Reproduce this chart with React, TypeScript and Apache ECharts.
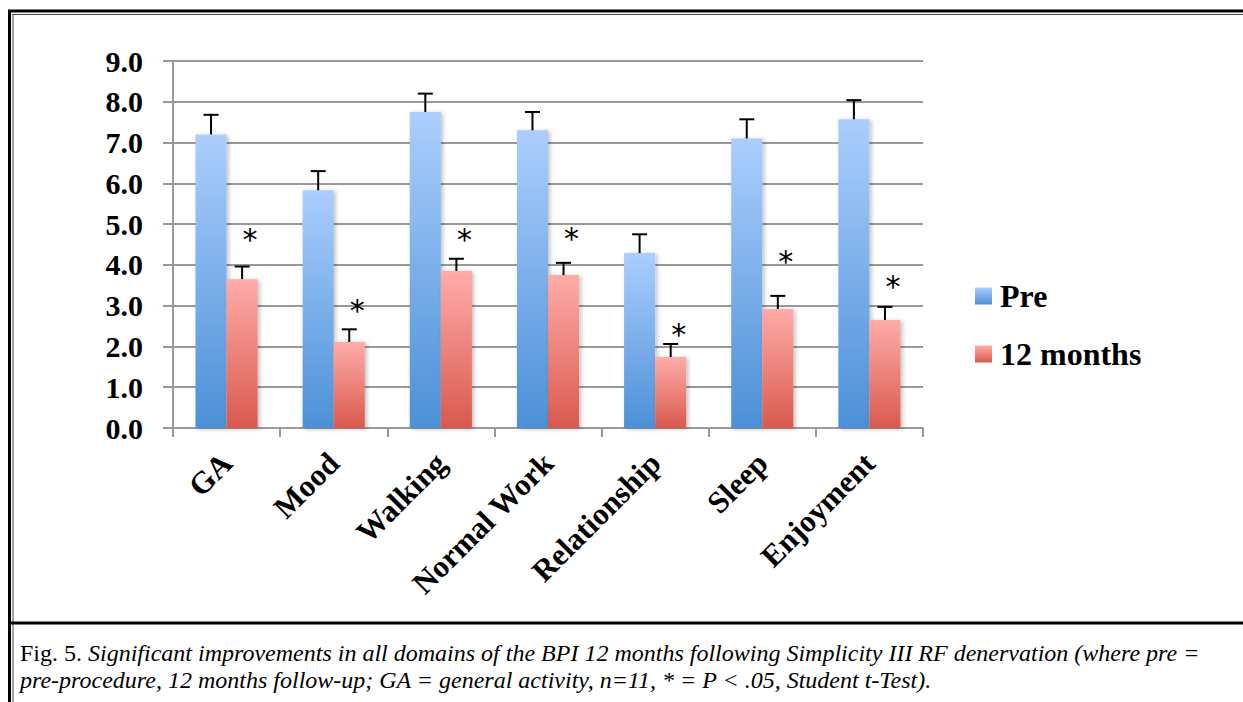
import React, { useEffect, useRef } from "react";
import * as echarts from "echarts";

const categories = ["GA", "Mood", "Walking", "Normal Work", "Relationship", "Sleep", "Enjoyment"];
const preValues = [7.2, 5.83, 7.75, 7.3, 4.29, 7.1, 7.57];
const preErrors = [0.48, 0.47, 0.45, 0.45, 0.46, 0.47, 0.47];
const monthValues = [3.65, 2.11, 3.85, 3.75, 1.74, 2.92, 2.65];
const monthErrors = [0.31, 0.31, 0.3, 0.3, 0.32, 0.32, 0.32];
const asteriskLevels = [4.68, 2.94, 4.68, 4.7, 2.33, 4.12, 3.53];
const seriesNames = ["Pre", "12 months"];
const yMin = 0;
const yMax = 9;
const yInterval = 1;
const captionLead = "Fig. 5. ";
const captionLine1 =
  "Significant improvements in all domains of the BPI 12 months following Simplicity III RF denervation (where pre =";
const captionLine2 =
  "pre-procedure, 12 months follow-up; GA = general activity, n=11, * = P < .05, Student t-Test).";

const BAR_FRAC = 0.29;

export default function App() {
  const ref = useRef<HTMLDivElement>(null);

  useEffect(() => {
    if (!ref.current) return;
    const chart = echarts.init(ref.current, null, { renderer: "svg" });

    const blue = new echarts.graphic.LinearGradient(0, 0, 0, 1, [
      { offset: 0, color: "#abcefd" },
      { offset: 1, color: "#4c90d7" },
    ]);
    const red = new echarts.graphic.LinearGradient(0, 0, 0, 1, [
      { offset: 0, color: "#ffaca9" },
      { offset: 1, color: "#d9594e" },
    ]);

    const errorSeries = (values: number[], errors: number[], sign: number) => ({
      type: "custom",
      silent: true,
      z: 5,
      data: categories.map((_, i) => [i, values[i], errors[i]]),
      renderItem: (params: any, api: any) => {
        const idx = api.value(0);
        const v = api.value(1);
        const e = api.value(2);
        const base = api.coord([idx, v]);
        const top = api.coord([idx, v + e]);
        const band = api.size([1, 0])[0];
        const x = base[0] + sign * band * BAR_FRAC * 0.5;
        const st = { stroke: "#000", lineWidth: 2 };
        return {
          type: "group",
          children: [
            { type: "line", shape: { x1: x, y1: base[1], x2: x, y2: top[1] }, style: st },
            { type: "line", shape: { x1: x - 7.5, y1: top[1], x2: x + 7.5, y2: top[1] }, style: st },
          ],
        };
      },
    });

    const barStyle = (color: any) => ({
      color,
      shadowBlur: 4,
      shadowColor: "rgba(0,0,0,0.25)",
      shadowOffsetX: 2,
      shadowOffsetY: 1,
    });

    const option: any = {
      animation: false,
      backgroundColor: "#fff",
      grid: { left: 173, right: 320, top: 61, bottom: 274, containLabel: false },
      legend: {
        orient: "vertical",
        left: 975,
        top: 280,
        padding: 0,
        icon: "rect",
        itemWidth: 17,
        itemHeight: 17,
        itemGap: 26,
        data: seriesNames,
        textStyle: {
          fontFamily: "Liberation Serif",
          fontWeight: "bold",
          fontSize: 32,
          color: "#000",
          lineHeight: 32,
          padding: [0, 0, 0, 3],
        },
      },
      xAxis: {
        type: "category",
        data: categories,
        axisLine: { show: true, lineStyle: { color: "#999", width: 2 } },
        axisTick: { show: true, length: 9, alignWithLabel: false, lineStyle: { color: "#999", width: 2 } },
        axisLabel: {
          interval: 0,
          rotate: 45,
          margin: 30,
          fontFamily: "Liberation Serif",
          fontWeight: "bold",
          fontSize: 31,
          color: "#000",
        },
      },
      yAxis: {
        type: "value",
        min: yMin,
        max: yMax,
        interval: yInterval,
        axisLine: { show: true, lineStyle: { color: "#999", width: 2 } },
        axisTick: { show: true, length: 10, lineStyle: { color: "#999", width: 2 } },
        splitLine: { show: true, lineStyle: { color: "#999", width: 2 } },
        axisLabel: {
          margin: 30,
          formatter: (v: number) => v.toFixed(1),
          fontFamily: "Liberation Serif",
          fontWeight: "bold",
          fontSize: 30,
          color: "#000",
        },
      },
      series: [
        {
          name: seriesNames[0],
          type: "bar",
          data: preValues,
          barWidth: BAR_FRAC * 100 + "%",
          barGap: "0%",
          itemStyle: barStyle(blue),
        },
        {
          name: seriesNames[1],
          type: "bar",
          data: monthValues,
          barWidth: BAR_FRAC * 100 + "%",
          barGap: "0%",
          itemStyle: barStyle(red),
        },
        errorSeries(preValues, preErrors, -1),
        errorSeries(monthValues, monthErrors, 1),
        {
          type: "custom",
          silent: true,
          z: 6,
          data: categories.map((_, i) => [i, asteriskLevels[i]]),
          renderItem: (params: any, api: any) => {
            const p = api.coord([api.value(0), api.value(1)]);
            const band = api.size([1, 0])[0];
            return {
              type: "text",
              x: p[0] + band * BAR_FRAC * 0.5 + 8,
              y: p[1] + 2,
              style: {
                text: "*",
                fontFamily: "DejaVu Sans",
                fontSize: 30,
                fill: "#000",
                align: "center",
                verticalAlign: "middle",
              },
            };
          },
        },
      ],
      graphic: [
        { type: "line", shape: { x1: 8, y1: 11, x2: 1243, y2: 11 }, style: { stroke: "#000", lineWidth: 3 } },
        { type: "line", shape: { x1: 12, y1: 14.5, x2: 1243, y2: 14.5 }, style: { stroke: "#444", lineWidth: 1 } },
        { type: "line", shape: { x1: 9.5, y1: 10, x2: 9.5, y2: 702 }, style: { stroke: "#000", lineWidth: 3 } },
        { type: "line", shape: { x1: 13, y1: 14, x2: 13, y2: 702 }, style: { stroke: "#444", lineWidth: 1 } },
        { type: "line", shape: { x1: 8, y1: 623, x2: 1243, y2: 623 }, style: { stroke: "#000", lineWidth: 3 } },
        {
          type: "text",
          x: 20,
          y: 653,
          style: {
            text: "{n|" + captionLead + "}{i|" + captionLine1 + "}",
            verticalAlign: "middle",
            rich: {
              n: { fontFamily: "Liberation Serif", fontSize: 24, fill: "#000" },
              i: { fontFamily: "Liberation Serif", fontStyle: "italic", fontSize: 24, fill: "#000" },
            },
          },
        },
        {
          type: "text",
          x: 20,
          y: 680,
          style: {
            text: captionLine2,
            verticalAlign: "middle",
            fontFamily: "Liberation Serif",
            fontStyle: "italic",
            fontSize: 24,
            fill: "#000",
          },
        },
      ],
    };

    chart.setOption(option);
    return () => chart.dispose();
  }, []);

  return (
    <div
      ref={ref}
      style={{ position: "fixed", left: 0, top: 0, width: 1243, height: 702, background: "#fff" }}
    />
  );
}
